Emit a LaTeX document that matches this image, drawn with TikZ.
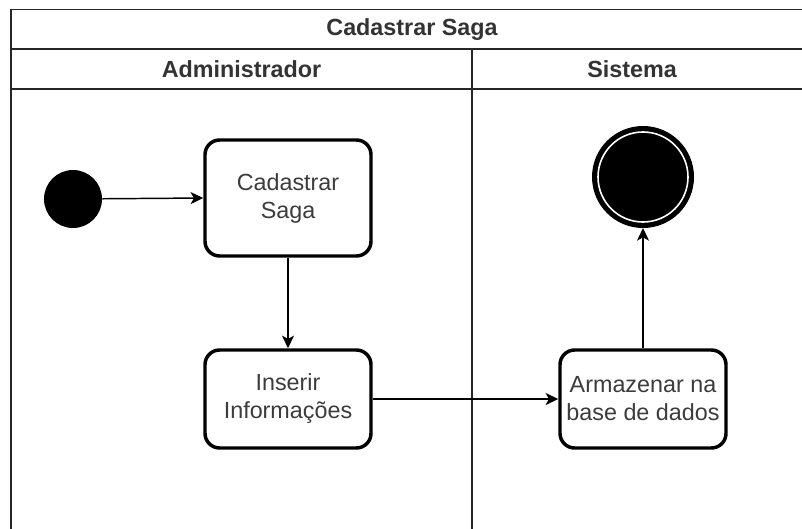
\documentclass[tikz,border=0pt]{standalone}
\usepackage{fontspec}
\setmainfont{Liberation Sans}
\usetikzlibrary{arrows.meta}
\definecolor{txtgray}{RGB}{60,60,60}
\tikzset{
  frameline/.style={line width=1.3pt, black!85},
  headtext/.style={font=\fontsize{17.5}{21}\selectfont\bfseries, text=black!80, inner sep=0pt},
  actbox/.style={draw=black, line width=2.6pt, rounded corners=11pt, fill=white,
    minimum width=124.5pt, align=center, inner sep=0pt,
    font=\fontsize{17.5}{21}\selectfont, text=txtgray},
  flow/.style={line width=1.1pt, -{Stealth[length=9.5pt,width=9pt,inset=2.5pt]}},
}
\begin{document}
\begin{tikzpicture}[x=0.75pt,y=-0.75pt]
\useasboundingbox (0,0) rectangle (802,528);
\clip (0,0) rectangle (802,528);
\fill[white] (0,0) rectangle (802,528);
% frame
\draw[frameline] (11,540) -- (11,9.5) -- (820,9.5);
\draw[frameline] (11,49) -- (820,49);
\draw[frameline] (11,89) -- (820,89);
\draw[frameline] (472,49) -- (472,540);
% headers
\node[headtext] (title) at (412,29.5) {Cadastrar Saga};
\node[headtext] (hadm) at (241.5,69.5) {Administrador};
\node[headtext] (hsis) at (632,69.5) {Sistema};
% nodes
\node[circle, fill=black, minimum size=43.5pt, inner sep=0pt] (start) at (73,199) {};
\node[actbox, minimum height=87pt] (c1) at (288,198) {Cadastrar\\Saga};
\node[actbox, minimum height=73.5pt] (c2) at (288,399) {Inserir\\Informações};
\node[actbox, minimum height=73.5pt] (c3) at (643,399) {Armazenar na\\base de dados};
\node[circle, fill=black, minimum size=76.5pt, inner sep=0pt, outer sep=0pt] (endst) at (643,177) {};
\draw[white, line width=1.2pt] (endst.center) circle (33.75pt);
% connectors
\draw[flow] (start) -- (c1.west);
\draw[flow] (c1.south) -- (c2.north);
\draw[flow] (c2.east) -- (c3.west);
\draw[flow] (c3.north) -- (endst.south);
\end{tikzpicture}
\end{document}
